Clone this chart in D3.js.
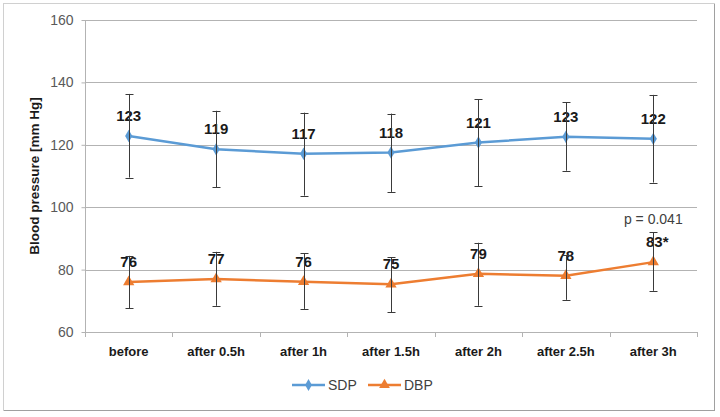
<!DOCTYPE html>
<html><head><meta charset="utf-8">
<script src="https://cdn.jsdelivr.net/npm/d3@7"></script>
<style>body{margin:0;background:#fff}svg{display:block}text{font-family:"Liberation Sans",Arial,sans-serif}</style>
</head><body><svg id="c" width="720" height="417"></svg>
<script>
const categories = ["before","after 0.5h","after 1h","after 1.5h","after 2h","after 2.5h","after 3h"];
const sdpMean = [122.8,118.6,117.1,117.5,120.7,122.6,121.9];
const sdpLow  = [109.5,106.4,103.7,104.9,106.8,111.7,107.9];
const sdpHigh = [136.3,130.9,130.3,130.0,134.6,133.7,136.0];
const sdpLabels = ["123","119","117","118","121","123","122"];
const dbpMean = [76.0,77.0,76.1,75.3,78.7,78.0,82.4];
const dbpLow  = [67.6,68.4,67.4,66.4,68.4,70.3,73.2];
const dbpHigh = [84.4,85.7,85.2,83.9,88.6,84.7,92.0];
const dbpLabels = ["76","77","76","75","79","78","83*"];
const yTicks = [60,80,100,120,140,160];
const seriesNames = ["SDP","DBP"];
const pNote = "p = 0.041";

const svg = d3.select("#c");
// outer frame
svg.append("rect").attr("x",3.5).attr("y",3.5).attr("width",711).attr("height",407)
  .attr("fill","#fff").attr("stroke","#d0d0d0");
svg.append("line").attr("x1",714.5).attr("x2",714.5).attr("y1",4).attr("y2",411).attr("stroke","#a0a0a0");
svg.append("line").attr("x1",4).attr("x2",715).attr("y1",410.5).attr("y2",410.5).attr("stroke","#a0a0a0");

const x = d3.scaleBand().domain(categories).range([85,697]);
const y = d3.scaleLinear().domain([60,160]).range([332,20]);
const cx = c => x(c) + x.bandwidth()/2;

// gridlines
svg.append("g").selectAll("line").data(yTicks.filter(t=>t>60)).join("line")
  .attr("x1",85).attr("x2",697).attr("y1",d=>Math.round(y(d))+0.5).attr("y2",d=>Math.round(y(d))+0.5)
  .attr("stroke","#b3b3b3").attr("stroke-width",1);

// y axis
const ya = svg.append("g").attr("transform","translate(85.5,0)")
  .call(d3.axisLeft(y).tickValues(yTicks).tickSize(4).tickPadding(8).tickFormat(d3.format("d")));
ya.select(".domain").attr("stroke","#b3b3b3").attr("d","M0,20V332");
ya.selectAll(".tick line").attr("stroke","#b3b3b3");
ya.selectAll(".tick text").attr("font-size",14).attr("fill","#595959").attr("font-family","Liberation Sans, Arial, sans-serif");

// x axis
const xa = svg.append("g").attr("transform","translate(0,332.5)")
  .call(d3.axisBottom(x).tickSize(0).tickPadding(14));
xa.select(".domain").attr("stroke","#b3b3b3").attr("d","M85,0H697");
xa.selectAll(".tick text").attr("font-size",13).attr("font-weight","bold").attr("fill","#1a1a1a")
  .attr("font-family","Liberation Sans, Arial, sans-serif");
const bounds = categories.map(c=>x(c)).concat([697]);
svg.append("g").selectAll("line").data(bounds).join("line")
  .attr("x1",d=>Math.round(d)+0.5).attr("x2",d=>Math.round(d)+0.5).attr("y1",332).attr("y2",337)
  .attr("stroke","#b3b3b3");

// axis title
svg.append("text").attr("transform","translate(39,176) rotate(-90)").attr("text-anchor","middle")
  .attr("font-size",13.5).attr("font-weight","bold").attr("fill","#1a1a1a").text("Blood pressure [mm Hg]");

const colors = ["#5B9BD5","#ED7D31"];
const series = [
  {mean:sdpMean, low:sdpLow, high:sdpHigh, labels:sdpLabels, color:colors[0], sym:d3.symbolDiamond},
  {mean:dbpMean, low:dbpLow, high:dbpHigh, labels:dbpLabels, color:colors[1], sym:d3.symbolTriangle}
];
const line = d3.line().x((d,i)=>cx(categories[i])).y(d=>y(d));

series.forEach(s=>{
  // labels
  svg.append("g").selectAll("text").data(s.labels).join("text")
    .attr("x",(d,i)=>cx(categories[i]) + (d.endsWith("*")?4:0)).attr("y",(d,i)=>y(s.mean[i])-15)
    .attr("text-anchor","middle").attr("font-size",15).attr("font-weight","bold").attr("fill","#1a1a1a").text(d=>d);
  svg.append("path").datum(s.mean).attr("d",line).attr("fill","none").attr("stroke",s.color).attr("stroke-width",2.5);
  svg.append("g").selectAll("path").data(s.mean).join("path")
    .attr("transform",(d,i)=>`translate(${cx(categories[i])},${y(d)})`)
    .attr("d",d3.symbol(s.sym, s.sym===d3.symbolDiamond?45:55)).attr("fill",s.color);
  // error bars
  const g = svg.append("g").attr("stroke","#3a3a3a").attr("stroke-width",1);
  s.mean.forEach((m,i)=>{
    const X = Math.round(cx(categories[i]))+0.5;
    g.append("line").attr("x1",X).attr("x2",X).attr("y1",y(s.low[i])).attr("y2",y(s.high[i]));
    g.append("line").attr("x1",X-4).attr("x2",X+4).attr("y1",Math.round(y(s.low[i]))+0.5).attr("y2",Math.round(y(s.low[i]))+0.5);
    g.append("line").attr("x1",X-4).attr("x2",X+4).attr("y1",Math.round(y(s.high[i]))+0.5).attr("y2",Math.round(y(s.high[i]))+0.5);
  });
});

// p note
svg.append("text").attr("x",cx(categories[6])).attr("y",y(dbpMean[6])-38).attr("text-anchor","middle")
  .attr("font-size",14).attr("fill","#404040").text(pNote);

// legend
const leg = svg.append("g").attr("transform","translate(0,385)");
const legItems = [{x:292,name:seriesNames[0],color:colors[0],sym:d3.symbolDiamond},{x:368,name:seriesNames[1],color:colors[1],sym:d3.symbolTriangle}];
legItems.forEach(l=>{
  leg.append("line").attr("x1",l.x).attr("x2",l.x+33).attr("y1",0).attr("y2",0).attr("stroke",l.color).attr("stroke-width",2.5);
  leg.append("path").attr("transform",`translate(${l.x+16.5},0)`).attr("d",d3.symbol(l.sym,l.sym===d3.symbolDiamond?40:50)).attr("fill",l.color);
  leg.append("text").attr("x",l.x+36).attr("y",5).attr("font-size",14).attr("fill","#404040").text(l.name);
});
</script></body></html>
